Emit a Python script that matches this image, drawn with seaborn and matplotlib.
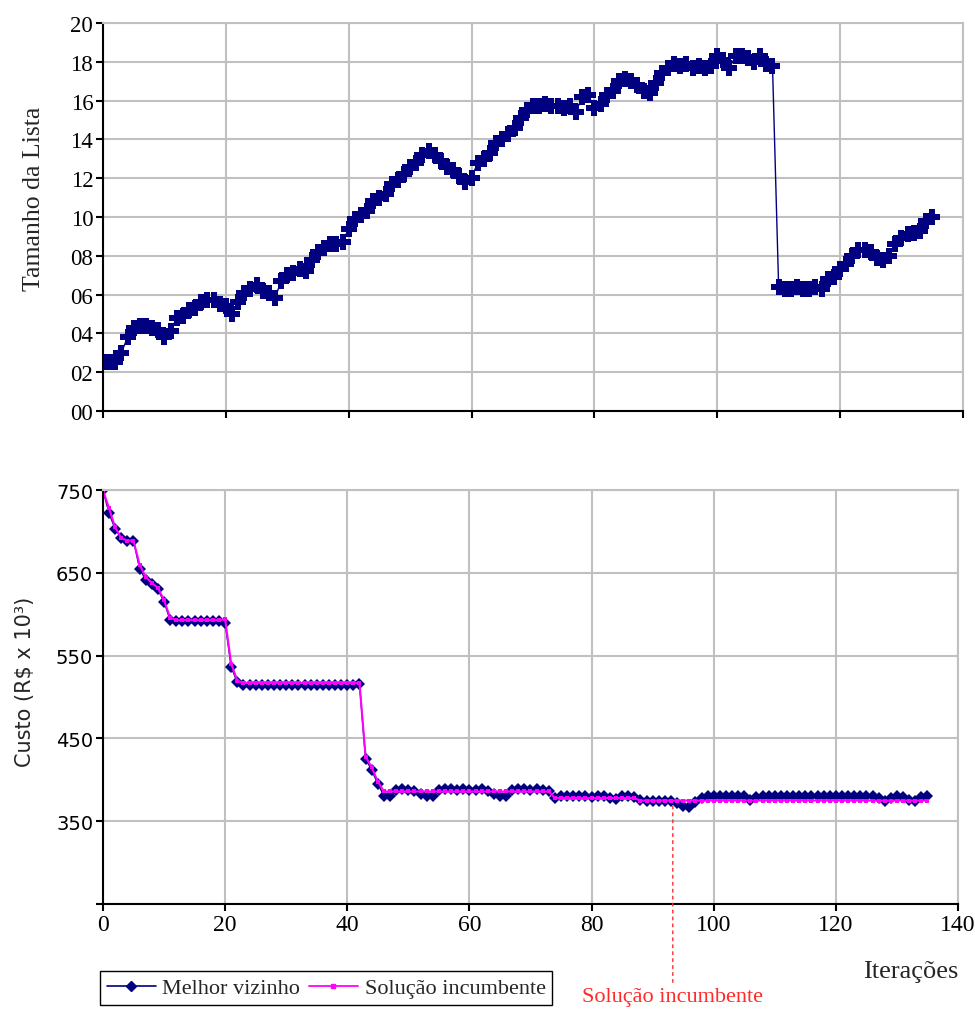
import pandas as pd
import seaborn as sns
import matplotlib.pyplot as plt
from matplotlib.lines import Line2D

# ---- dados ----
iteracoes_lista = list(range(136))
tamanho_lista = [
    2.5, 2.5, 2.5, 3.0, 3.8, 4.3, 4.4, 4.4, 4.3, 4.2,
    3.8, 4.1, 4.8, 4.9, 5.2, 5.3, 5.6, 5.7, 5.7, 5.5,
    5.4, 5.0, 5.6, 6.1, 6.3, 6.5, 6.2, 6.1, 5.8, 6.7,
    7.0, 7.1, 7.3, 7.2, 7.8, 8.2, 8.4, 8.6, 8.6, 8.7,
    9.4, 9.9, 10.1, 10.3, 10.8, 11.0, 11.2, 11.7, 11.9, 12.2,
    12.6, 12.8, 13.2, 13.4, 13.2, 12.9, 12.6, 12.4, 12.1, 11.8,
    12.0, 12.8, 13.0, 13.3, 13.8, 14.0, 14.3, 14.6, 15.1, 15.5,
    15.7, 15.7, 15.8, 15.7, 15.7, 15.6, 15.7, 15.4, 16.2, 16.3,
    15.6, 15.8, 16.3, 16.5, 17.0, 17.1, 17.0, 16.8, 16.5, 16.4,
    16.9, 17.4, 17.7, 17.9, 17.8, 17.9, 17.7, 17.8, 17.7, 17.8,
    18.3, 18.1, 17.7, 18.3, 18.3, 18.2, 18.0, 18.3, 17.9, 17.8,
    6.4, 6.3, 6.3, 6.4, 6.3, 6.3, 6.4, 6.3, 6.8, 6.9,
    7.3, 7.6, 8.0, 8.3, 8.3, 8.2, 7.9, 7.8, 8.0, 8.6,
    8.9, 9.1, 9.2, 9.3, 9.8, 10.0,
]

iteracoes_custo = list(range(136))
melhor_vizinho = [
    750, 722, 703, 692, 688, 689, 655, 642, 636, 630,
    615, 593, 592, 592, 592, 592, 592, 592, 592, 592,
    590, 536, 518, 515, 515, 515, 515, 515, 515, 515,
    515, 515, 515, 515, 515, 515, 515, 515, 515, 515,
    515, 515, 516, 425, 412, 395, 381, 380, 388, 389,
    388, 387, 383, 380, 381, 388, 389, 389, 388, 389,
    388, 388, 389, 387, 383, 380, 381, 388, 389, 389,
    388, 389, 388, 386, 378, 380, 381, 380, 381, 380,
    379, 380, 381, 378, 377, 380, 381, 379, 376, 374,
    375, 374, 375, 374, 372, 368, 367, 373, 378, 380,
    381, 380, 381, 380, 381, 380, 376, 379, 381, 380,
    381, 380, 381, 380, 381, 380, 381, 380, 381, 380,
    381, 380, 381, 380, 381, 380, 381, 378, 375, 378,
    380, 379, 376, 375, 379, 380,
]
solucao_incumbente = [
    750, 728, 705, 692, 689, 689, 660, 645, 638, 632,
    617, 596, 593, 593, 593, 593, 593, 593, 593, 593,
    594, 540, 520, 517, 517, 517, 517, 517, 517, 517,
    517, 517, 517, 517, 517, 517, 517, 517, 517, 517,
    517, 517, 517, 428, 415, 398, 386, 386, 386, 386,
    386, 386, 386, 386, 386, 386, 386, 386, 386, 386,
    386, 386, 386, 386, 386, 386, 386, 386, 386, 386,
    386, 386, 386, 386, 378, 378, 378, 378, 378, 378,
    378, 378, 378, 378, 378, 378, 378, 378, 375, 375,
    375, 375, 375, 375, 375, 375, 375, 375, 375, 375,
    375, 375, 375, 375, 375, 375, 375, 375, 375, 375,
    375, 375, 375, 375, 375, 375, 375, 375, 375, 375,
    375, 375, 375, 375, 375, 375, 375, 375, 375, 375,
    375, 375, 375, 375, 375, 375,
]

x_ticks = [0, 20, 40, 60, 80, 100, 120, 140]
lista_ticks = list(range(0, 21, 2))
custo_ticks = [250, 350, 450, 550, 650, 750]
custo_labels = ['', '350', '450', '550', '650', '750']

NAVY = '#000080'
MAGENTA = '#ff00ff'
GRID = '#c0c0c0'

sns.set_style('whitegrid')
plt.rcParams['font.family'] = ['Liberation Serif', 'DejaVu Serif']

fig = plt.figure(figsize=(9.75, 10.12), dpi=100)
ax1 = fig.add_axes([0.1056, 0.5929, 0.882, 0.3834])
ax2 = fig.add_axes([0.1056, 0.1057, 0.877, 0.409])


def estilo_eixo(ax):
    ax.grid(True, color=GRID, linewidth=1.5)
    for s in ['top', 'right']:
        ax.spines[s].set_color(GRID)
        ax.spines[s].set_linewidth(1.5)
    for s in ['left', 'bottom']:
        ax.spines[s].set_color('black')
        ax.spines[s].set_linewidth(1.5)
    ax.tick_params(bottom=True, left=True, direction='out', length=5,
                   width=1.5, color='black', labelcolor='black', pad=2)


# Grafico de cima: tamanho da lista
df_lista = pd.DataFrame({'it': iteracoes_lista, 'tam': tamanho_lista})
sns.lineplot(data=df_lista, x='it', y='tam', ax=ax1, color=NAVY, linewidth=1,
             marker='P', markersize=11.5, markeredgewidth=0, sort=False,
             estimator=None)
estilo_eixo(ax1)
ax1.set_xlim(0, 140)
ax1.set_ylim(0, 20)
ax1.set_xticks(x_ticks)
ax1.set_xticklabels([])
ax1.set_yticks(lista_ticks)
ax1.set_yticklabels([f'{v:02d}' for v in lista_ticks], fontsize=16.5)
ax1.set_xlabel('')
ax1.set_ylabel('Tamanho da Lista', fontsize=18.5)
ax1.yaxis.set_label_coords(-0.067, 0.55)

# Grafico de baixo: custo
df_custo = pd.DataFrame({'it': iteracoes_custo, 'mv': melhor_vizinho,
                         'si': solucao_incumbente})
sns.lineplot(data=df_custo, x='it', y='mv', ax=ax2, color=NAVY, linewidth=1,
             marker='D', markersize=6.5, markeredgewidth=0, sort=False,
             estimator=None)
sns.lineplot(data=df_custo, x='it', y='si', ax=ax2, color=MAGENTA,
             linewidth=1.5, marker='s', markersize=3, markeredgewidth=0,
             sort=False, estimator=None)
estilo_eixo(ax2)
ax2.set_xlim(0, 140)
ax2.set_ylim(250, 750)
ax2.set_xticks(x_ticks)
ax2.set_xticklabels([str(v) for v in x_ticks], fontsize=17)
ax2.set_yticks(custo_ticks)
ax2.set_yticklabels(custo_labels, fontsize=14, family='DejaVu Sans')
ax2.set_ylabel('Custo (R$ x 10³)', fontsize=15, family='DejaVu Sans')
ax2.yaxis.set_label_coords(-0.08, 0.54)
ax2.set_xlabel('Iterações', fontsize=19)
ax2.xaxis.set_label_coords(0.945, -0.135)

ax2.annotate('Solução incumbente', xy=(93.3, 368),
             xytext=(93.3, 1 - 1007 / 1012),
             textcoords=('data', 'figure fraction'),
             ha='center', va='bottom', color='#ff2a2a', fontsize=16,
             annotation_clip=False,
             arrowprops=dict(arrowstyle='-', linestyle=(0, (2, 3)),
                             color='#ff2a2a', linewidth=1, shrinkA=1,
                             shrinkB=0))

handles = [
    Line2D([], [], color=NAVY, linewidth=1.2, marker='D', markersize=5),
    Line2D([], [], color=MAGENTA, linewidth=1.3, marker='s', markersize=2.5),
]
fig.legend(handles, ['Melhor vizinho', 'Solução incumbente'],
           loc='lower left', bbox_to_anchor=(100 / 975, 1 - 1006 / 1012),
           ncol=2, fontsize=16, frameon=True, fancybox=False,
           edgecolor='black', framealpha=1, borderpad=0.3,
           handlelength=2.2, handletextpad=0.3, columnspacing=0.4,
           borderaxespad=0)

fig.savefig('out.png', dpi=100)
